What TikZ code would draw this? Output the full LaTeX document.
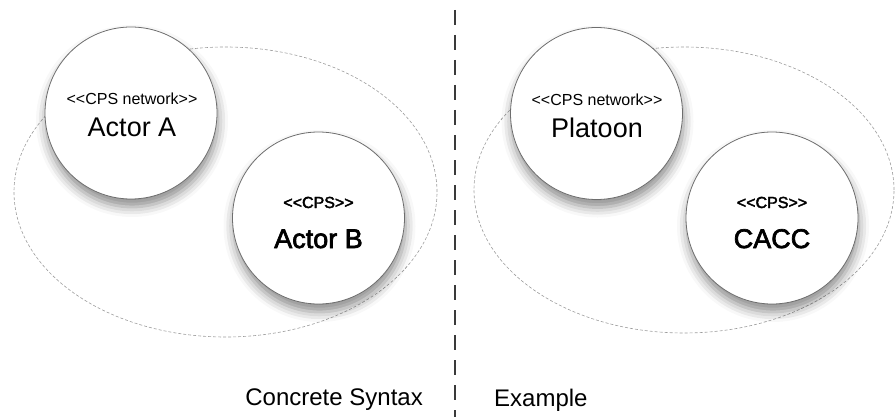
\documentclass[tikz,border=0pt]{standalone}
\usepackage{fontspec}
\setmainfont{Liberation Sans}
\newfontfamily\labelfont{Liberation Sans}
\newfontfamily\heavyfont{Liberation Sans}[FakeBold=2.5]
\usetikzlibrary{shapes.geometric,shadows.blur}
\definecolor{rimgray}{HTML}{6E6E6E}
\definecolor{setgray}{HTML}{9C9C9C}
\definecolor{sepgray}{HTML}{3A3A3A}
\newcommand{\stereotype}[1]{\textless\kern0pt\textless#1\textgreater\kern0pt\textgreater}
\tikzset{
  actor/.style={circle,draw=rimgray,line width=0.8pt,fill=white,minimum size=172pt,inner sep=0pt,
    blur shadow={shadow xshift=1pt,shadow yshift=-8pt,shadow blur radius=10pt,shadow opacity=45}},
  network/.style={ellipse,draw=setgray,line width=0.6pt,dash pattern=on 3pt off 2pt,inner sep=0pt},
  stereo/.style={anchor=base,inner sep=0pt,font=\labelfont\fontsize{16}{19}\selectfont},
  actorname/.style={anchor=base,inner sep=0pt,font=\labelfont\fontsize{27}{32}\selectfont},
  caption/.style={inner sep=0pt,font=\labelfont\fontsize{24}{29}\selectfont},
  separator/.style={draw=sepgray,line width=1.8pt,dash pattern=on 15pt off 10pt}
}
\begin{document}
\begin{tikzpicture}[x=1pt,y=-1pt]
  \useasboundingbox (0,0) rectangle (896,417);
  % concrete syntax
  \node[network,minimum width=423pt,minimum height=290pt] (setA) at (225.5,192) {};
  \node[actor] (actA) at (131,113) {};
  \node[actor] (actB) at (318.5,218) {};
  \node[stereo] (stA) at (132,105) {\stereotype{CPS network}};
  \node[actorname] (nmA) at (132,136) {Actor A};
  \node[stereo] (stB) at (318.5,208) {\heavyfont\stereotype{CPS}};
  \node[actorname] (nmB) at (318.5,248) {\heavyfont Actor B};
  \node[caption,anchor=base east] (capA) at (423,405) {Concrete Syntax};
  % separator
  \coordinate (septop) at (455,10);
  \coordinate (sepbot) at (455,417);
  \draw[separator] (septop) -- (sepbot);
  % example
  \node[network,minimum width=420pt,minimum height=286pt] (setP) at (684,190) {};
  \node[actor] (actP) at (596.5,113.5) {};
  \node[actor] (actC) at (772,218) {};
  \node[stereo] (stP) at (597,106) {\stereotype{CPS network}};
  \node[actorname] (nmP) at (597,137) {Platoon};
  \node[stereo] (stC) at (772,208) {\heavyfont\stereotype{CPS}};
  \node[actorname] (nmC) at (772,248) {\heavyfont CACC};
  \node[caption,anchor=base west] (capB) at (494,406) {Example};
\end{tikzpicture}
\end{document}
